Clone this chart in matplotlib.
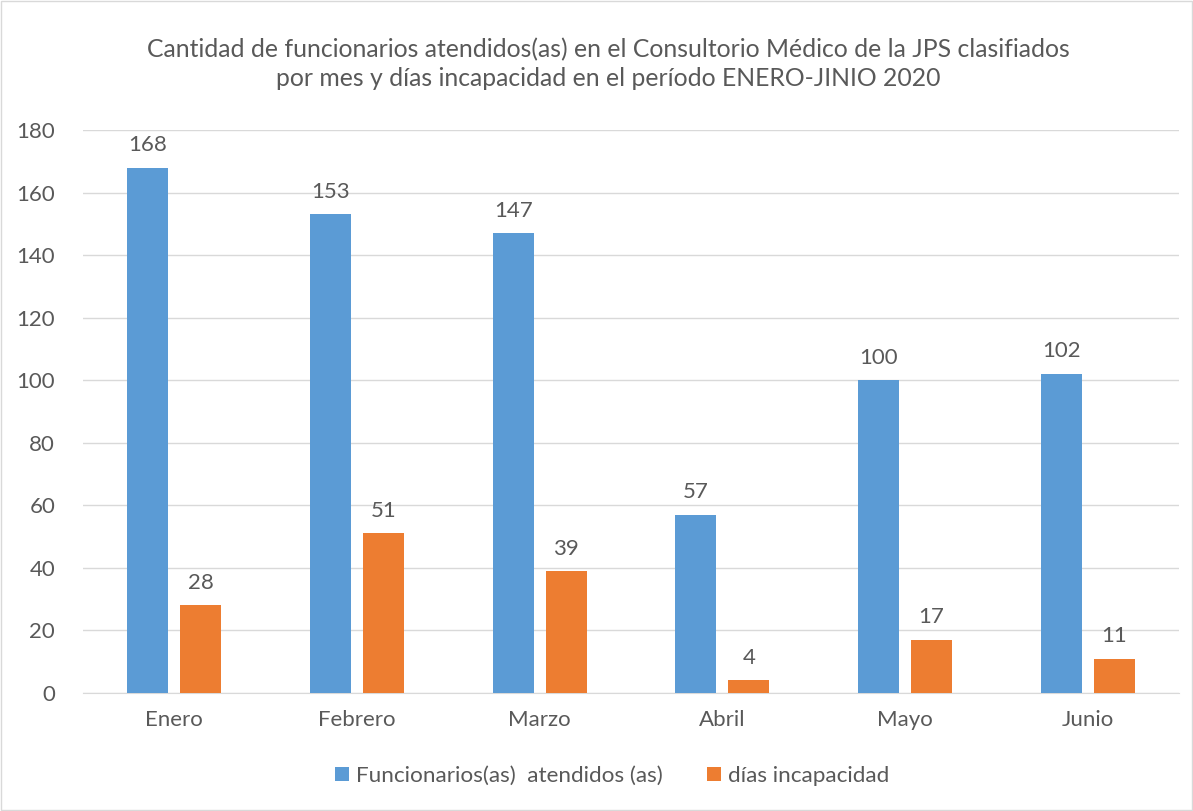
import matplotlib
matplotlib.use("Agg")
import matplotlib.pyplot as plt
import numpy as np
from matplotlib.patches import Rectangle

months = ["Enero", "Febrero", "Marzo", "Abril", "Mayo", "Junio"]
funcionarios = [168, 153, 147, 57, 100, 102]
dias = [28, 51, 39, 4, 17, 11]
yticks = [0, 20, 40, 60, 80, 100, 120, 140, 160, 180]
title = ("Cantidad de funcionarios atendidos(as) en el Consultorio Médico de la JPS clasifiados\n"
         "por mes y días incapacidad en el período ENERO-JINIO 2020")
series_names = ["Funcionarios(as)  atendidos (as)", "días incapacidad"]

plt.rcParams['font.family'] = ['Lato', 'DejaVu Sans']
txt = "#595959"
blue = "#5B9BD5"
orange = "#ED7D31"

fig = plt.figure(figsize=(11.93, 8.11), dpi=100)
ax = fig.add_axes([83/1193, 1 - 693/811, (1179-83)/1193, (693-130)/811])

x = np.arange(len(months))
w = 0.224
off = 0.145
b1 = ax.bar(x - off, funcionarios, w, color=blue, label=series_names[0], zorder=3)
b2 = ax.bar(x + off, dias, w, color=orange, label=series_names[1], zorder=3)
for bars in (b1, b2):
    ax.bar_label(bars, padding=9, fontsize=16, color=txt)

ax.set_xlim(-0.5, len(months) - 0.5)
ax.set_ylim(0, 180)
ax.set_yticks(yticks)
ax.set_xticks(x)
ax.set_xticklabels(months)
ax.tick_params(axis='both', length=0, labelsize=16, colors=txt)
ax.tick_params(axis='x', pad=12)
ax.tick_params(axis='y', pad=20)
ax.grid(axis='y', color="#D9D9D9", linewidth=1, zorder=0)
for s in ["top", "right", "left"]:
    ax.spines[s].set_visible(False)
ax.spines["bottom"].set_color("#D9D9D9")

fig.text(608/1193, 1 - 64/811, title, ha='center', va='center', fontsize=17.8,
         color=txt, linespacing=1.35)

leg = fig.legend(handles=[b1, b2], loc='center', bbox_to_anchor=(612/1193, 1 - 776/811),
                 ncol=2, frameon=False, fontsize=16.2, labelcolor=txt,
                 handlelength=0.63, handleheight=0.63, handletextpad=0.27, columnspacing=2.0)

fig.patches.append(Rectangle((1/1193, 1/811), 1 - 2/1193, 1 - 2/811, transform=fig.transFigure,
                             fill=False, edgecolor="#D9D9D9", linewidth=1))

fig.savefig("out.png", dpi=100)
